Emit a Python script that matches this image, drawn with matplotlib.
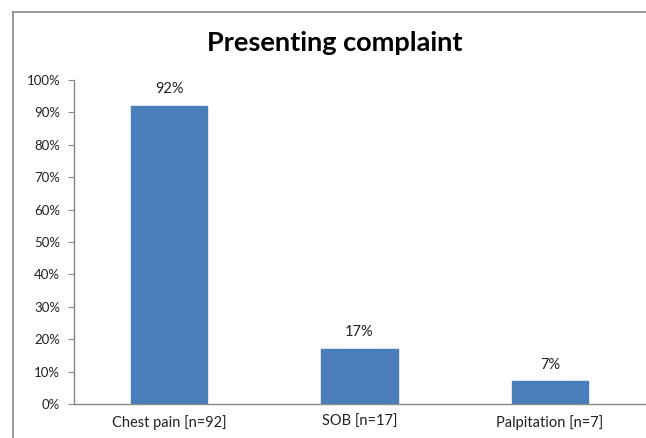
import matplotlib
matplotlib.use("Agg")
import matplotlib.pyplot as plt
from matplotlib.lines import Line2D
from matplotlib.ticker import FuncFormatter, MultipleLocator

categories = ["Chest pain [n=92]", "SOB [n=17]", "Palpitation [n=7]"]
percentages = [92, 17, 7]
title = "Presenting complaint"

plt.rcParams["font.family"] = ["Lato", "DejaVu Sans"]

fig = plt.figure(figsize=(6.46, 4.38), dpi=100)
fig.patch.set_facecolor("white")
fig.patch.set_edgecolor("white")
fig.patch.set_linewidth(0)

# chart area border: left edge and top edge
fx = 13 / 646
fy = 1 - 12 / 438
fig.add_artist(Line2D([fx, fx], [0.0, fy], transform=fig.transFigure,
                      color="#888888", linewidth=1.2))
fig.add_artist(Line2D([fx, 1.0], [fy, fy], transform=fig.transFigure,
                      color="#888888", linewidth=1.2))

ax = fig.add_axes([74 / 646, 1 - 404 / 438, (645 - 74) / 646, (404 - 80) / 438])
ax.patch.set_visible(False)
x = range(len(categories))
ax.bar(x, percentages, width=0.4, color="#4A7EBB", edgecolor="#4A7EBB")

for xi, v in zip(x, percentages):
    ax.annotate(f"{v}%", (xi, v), xytext=(0, 7), textcoords="offset points",
                ha="center", va="bottom", fontsize=10.5, color="#222222")

ax.set_xlim(-0.5, len(categories) - 0.5)
ax.set_ylim(0, 100)
ax.yaxis.set_major_locator(MultipleLocator(10))
ax.yaxis.set_major_formatter(FuncFormatter(lambda v, p: f"{int(v)}%"))
ax.set_xticks(list(x))
ax.set_xticklabels(categories)

ax.spines["top"].set_visible(False)
ax.spines["right"].set_visible(False)
for s in ("left", "bottom"):
    ax.spines[s].set_color("#888888")
    ax.spines[s].set_linewidth(1.0)

ax.tick_params(axis="y", direction="out", length=4, color="#888888",
               labelsize=9.5, labelcolor="#222222", pad=6)
ax.tick_params(axis="x", length=0, labelsize=10.5, labelcolor="#222222", pad=8)

fig.text(335 / 646, 1 - 43 / 438, title, ha="center", va="center",
         fontsize=19.5, fontweight="bold", color="#000000")

fig.savefig("out.png", dpi=100, facecolor="white", edgecolor="none")
